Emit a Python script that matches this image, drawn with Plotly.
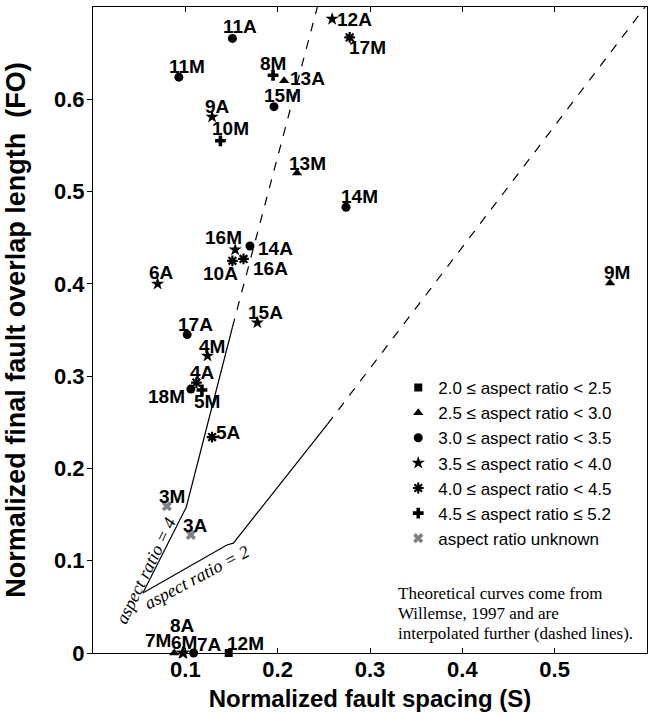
import plotly.graph_objects as go

# ---- data ----
names = ["11A", "11M", "12A", "17M", "8M", "13A", "15M", "9A", "10M", "13M",
         "14M", "9M", "16M", "14A", "10A", "16A", "6A", "15A", "17A", "4M",
         "4A", "18M", "5M", "5A", "3M", "3A", "8A", "7M", "6M", "7A", "12M"]
spacing = [0.151, 0.093, 0.259, 0.278, 0.195, 0.207, 0.196, 0.129, 0.138, 0.221,
           0.274, 0.560, 0.154, 0.170, 0.151, 0.163, 0.070, 0.178, 0.102, 0.124,
           0.112, 0.106, 0.118, 0.129, 0.080, 0.106, 0.097, 0.088, 0.098, 0.109, 0.147]
overlap = [0.666, 0.624, 0.687, 0.667, 0.626, 0.620, 0.592, 0.581, 0.555, 0.520,
           0.483, 0.401, 0.437, 0.441, 0.425, 0.427, 0.400, 0.358, 0.345, 0.322,
           0.293, 0.286, 0.285, 0.234, 0.159, 0.128, 0.0, 0.0, 0.0, 0.0, 0.0]
# aspect-ratio class index (0..6) for each sample
aspect_class = [2, 2, 3, 4, 5, 1, 2, 3, 5, 1,
                2, 1, 3, 2, 4, 4, 3, 3, 2, 3,
                4, 2, 5, 4, 6, 6, 3, 1, 3, 2, 0]
class_labels = ["2.0 \u2264 aspect ratio < 2.5",
                "2.5 \u2264 aspect ratio < 3.0",
                "3.0 \u2264 aspect ratio < 3.5",
                "3.5 \u2264 aspect ratio < 4.0",
                "4.0 \u2264 aspect ratio < 4.5",
                "4.5 \u2264 aspect ratio \u2264 5.2",
                "aspect ratio unknown"]

# theoretical curves (Willemse, 1997)
ar4_solid_x = [0.054, 0.101, 0.151]
ar4_solid_y = [0.065, 0.158, 0.353]
ar4_dash_x = [0.151, 0.243]
ar4_dash_y = [0.353, 0.700]
ar2_solid_x = [0.054, 0.145, 0.152, 0.254]
ar2_solid_y = [0.065, 0.117, 0.119, 0.248]
ar2_dash_x = [0.254, 0.598]
ar2_dash_y = [0.248, 0.700]

note_lines = ["Theoretical curves come from",
              "Willemse, 1997 and are",
              "interpolated further (dashed lines)."]

x_ticks = [0.1, 0.2, 0.3, 0.4, 0.5]
y_ticks = [0, 0.1, 0.2, 0.3, 0.4, 0.5, 0.6]

# ---- styles ----
symbols = ["square", "triangle-up", "circle", "star", "asterisk-open", "cross", "x"]
sizes = [8, 9, 9, 10, 9, 9, 9]
colors = ["black"] * 6 + ["#808080"]
# label offsets in px (dx, dy up)
label_off = {
    "11A": (8, 12), "11M": (8, 11), "12A": (22, 0), "17M": (18, -10),
    "8M": (0, 12), "13A": (23, 2), "15M": (9, 11), "9A": (5, 10),
    "10M": (10, 12), "13M": (10, 10), "14M": (14, 11), "9M": (7, 10),
    "16M": (-12, 12), "14A": (26, -2), "10A": (-12, -13), "16A": (27, -10),
    "6A": (4, 11), "15A": (8, 10), "17A": (8, 10), "4M": (5, 9),
    "4A": (6, 10), "18M": (-24, -7), "5M": (5, -12), "5A": (16, 5),
    "3M": (5, 10), "3A": (5, 9), "8A": (0, 28), "7M": (-16, 13),
    "6M": (1, 11), "7A": (16, 9), "12M": (17, 10),
}

SANS = "Liberation Sans, Arial, Helvetica, sans-serif"
SERIF = "Liberation Serif, Times New Roman, serif"

fig = go.Figure()

line_style = dict(color="black", width=1.2)
fig.add_trace(go.Scatter(x=ar4_solid_x, y=ar4_solid_y, mode="lines", line=line_style,
                         showlegend=False, hoverinfo="skip"))
fig.add_trace(go.Scatter(x=ar4_dash_x, y=ar4_dash_y, mode="lines",
                         line=dict(color="black", width=1.2, dash="dash"),
                         showlegend=False, hoverinfo="skip"))
fig.add_trace(go.Scatter(x=ar2_solid_x, y=ar2_solid_y, mode="lines", line=line_style,
                         showlegend=False, hoverinfo="skip"))
fig.add_trace(go.Scatter(x=ar2_dash_x, y=ar2_dash_y, mode="lines",
                         line=dict(color="black", width=1.2, dash="dash"),
                         showlegend=False, hoverinfo="skip"))

for c, lab in enumerate(class_labels):
    xs = [spacing[i] for i in range(len(names)) if aspect_class[i] == c]
    ys = [overlap[i] for i in range(len(names)) if aspect_class[i] == c]
    tx = [names[i] for i in range(len(names)) if aspect_class[i] == c]
    marker = dict(symbol=symbols[c], size=sizes[c], color=colors[c])
    if symbols[c].endswith("-open"):
        marker["line"] = dict(color=colors[c], width=2.2)
    else:
        marker["line"] = dict(width=0)
    fig.add_trace(go.Scatter(x=xs, y=ys, mode="markers", name=lab, text=tx,
                             marker=marker, cliponaxis=False))

for n, xv, yv in zip(names, spacing, overlap):
    dx, dy = label_off[n]
    fig.add_annotation(x=xv, y=yv, text=n, showarrow=False, xshift=dx, yshift=dy,
                       font=dict(family=SANS, size=19, color="black", weight="bold"))

fig.add_annotation(x=0.057, y=0.089, text="<i>aspect ratio = 4</i>", showarrow=False,
                   textangle=-64, font=dict(family=SERIF, size=18, color="black"))
fig.add_annotation(x=0.113, y=0.082, text="<i>aspect ratio = 2</i>", showarrow=False,
                   textangle=-28, font=dict(family=SERIF, size=18, color="black"))
for k, line in enumerate(note_lines):
    fig.add_annotation(xref="paper", yref="paper", x=0.547, y=0.092 - k * 0.031,
                       xanchor="left", yanchor="middle", align="left", showarrow=False,
                       text=line, font=dict(family=SERIF, size=17, color="black"))

fig.update_layout(
    width=655, height=718,
    margin=dict(l=93, r=8, t=7, b=65),
    paper_bgcolor="white", plot_bgcolor="white",
    font=dict(family=SANS, color="black"),
    legend=dict(x=0.551, y=0.438, xanchor="left", yanchor="top",
                bgcolor="rgba(0,0,0,0)", borderwidth=0,
                font=dict(family=SANS, size=17, color="black")),
    xaxis=dict(range=[0, 0.6], tickvals=x_ticks, ticktext=[str(v) for v in x_ticks],
               automargin=False,
               showgrid=False, zeroline=False, showline=True, linecolor="black",
               linewidth=1, mirror="ticks", ticks="inside", ticklen=5,
               tickcolor="black", ticklabelstandoff=-3,
               tickfont=dict(family=SANS, size=22, weight="bold"),
               title=dict(text="Normalized fault spacing (S)", standoff=8,
                          font=dict(family=SANS, size=24, weight="bold"))),
    yaxis=dict(range=[0, 0.7], tickvals=y_ticks, ticktext=["0"] + [str(v) for v in y_ticks[1:]],
               automargin=False,
               showgrid=False, zeroline=False, showline=True, linecolor="black",
               linewidth=1, mirror=True, ticks="outside", ticklen=5,
               tickcolor="black", ticklabelstandoff=-2,
               tickfont=dict(family=SANS, size=22, weight="bold"),
               title=dict(text="Normalized final fault overlap length  (FO)", standoff=20,
                          font=dict(family=SANS, size=27, weight="bold"))),
    yaxis2=dict(range=[0, 0.7], overlaying="y", side="right", tickvals=y_ticks,
                automargin=False,
                showticklabels=False, showgrid=False, zeroline=False, showline=False,
                ticks="inside", ticklen=5, tickcolor="black"),
)

fig.write_html("out.html", config={"displayModeBar": False},
               post_script="document.body.style.margin='0px';document.body.style.overflow='hidden';")
